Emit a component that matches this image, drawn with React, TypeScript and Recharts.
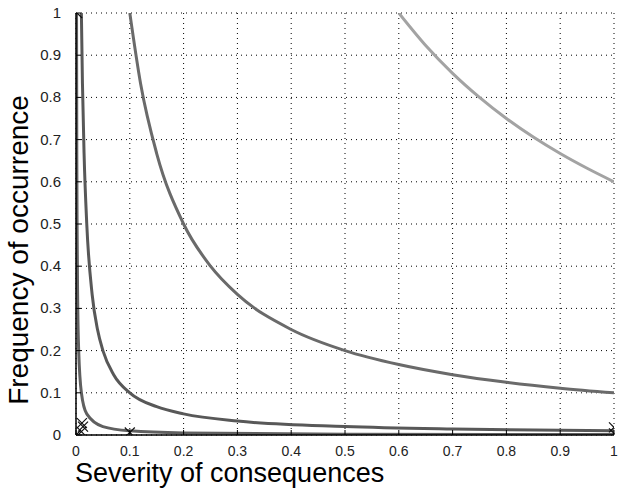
import React from "react";
import { ComposedChart, Line, Scatter, XAxis, YAxis, CartesianGrid } from "recharts";

// axis ticks
const axisTicks = [0, 0.1, 0.2, 0.3, 0.4, 0.5, 0.6, 0.7, 0.8, 0.9, 1];

// iso-risk curves (severity, frequency)
const curveAX = [0.6, 0.65, 0.7, 0.75, 0.8, 0.85, 0.9, 0.95, 1];
const curveAY = [1, 0.923, 0.857, 0.8, 0.75, 0.706, 0.667, 0.632, 0.6];

const curveBX = [0.1, 0.12, 0.15, 0.2, 0.25, 0.3, 0.4, 0.5, 0.6, 0.7, 0.8, 0.9, 1];
const curveBY = [1, 0.833, 0.667, 0.5, 0.4, 0.333, 0.25, 0.2, 0.167, 0.143, 0.125, 0.111, 0.1];

const curveCX = [0.01, 0.012, 0.015, 0.02, 0.03, 0.04, 0.05, 0.07, 0.1, 0.15, 0.2, 0.3, 0.5, 0.7, 1];
const curveCY = [1, 0.833, 0.667, 0.5, 0.333, 0.25, 0.2, 0.143, 0.1, 0.067, 0.05, 0.033, 0.02, 0.014, 0.01];

const curveDX = [0.001, 0.0015, 0.002, 0.003, 0.005, 0.01, 0.02, 0.05, 0.1, 0.2, 0.5, 1];
const curveDY = [1, 0.667, 0.5, 0.333, 0.2, 0.1, 0.05, 0.02, 0.01, 0.005, 0.002, 0.001];

// x markers
const markX = [0.002, 0, 0.01, 0.013, 0.011, 0.1, 1, 1];
const markY = [1, 0, 0.008, 0.02, 0.028, 0.006, 0.018, 0.004];

const zip = (xs: number[], ys: number[]) => xs.map((x, i) => ({ x, y: ys[i] }));

const fmt = (v: number) => (v === 0 || v === 1 ? String(v) : v.toFixed(1));

const tickFont = "'Liberation Sans Narrow', 'Liberation Sans', Arial, sans-serif";
const labelFont = "'Liberation Sans', Arial, sans-serif";

const XTick = (props: any) => {
    const { x, y, payload } = props;
    return (
        <g>
            <line x1={x} y1={y} x2={x} y2={y - 5} stroke="#000" />
            <text x={x} y={y + 21} textAnchor="middle" fontSize={14} fill="#222" fontFamily={tickFont}>
                {fmt(payload.value)}
            </text>
        </g>
    );
};

const YTick = (props: any) => {
    const { x, y, payload } = props;
    return (
        <g>
            <line x1={x} y1={y} x2={x + 5} y2={y} stroke="#000" />
            <text x={x - 15} y={y + 5} textAnchor="end" fontSize={15} fill="#222" fontFamily={tickFont}>
                {fmt(payload.value)}
            </text>
        </g>
    );
};

const NoLabel = () => <g />;

const XMark = (props: any) => {
    const { cx, cy } = props;
    const s = 5;
    return (
        <g stroke="#111" strokeWidth={1.2}>
            <line x1={cx - s} y1={cy - s} x2={cx + s} y2={cy + s} />
            <line x1={cx - s} y1={cy + s} x2={cx + s} y2={cy - s} />
        </g>
    );
};

export default function App() {
    return (
        <div style={{ position: "absolute", left: 0, top: 0, width: 620, height: 488, background: "#fff" }}>
            <ComposedChart width={620} height={488} margin={{ top: 13, right: 6, bottom: 0, left: 0 }}>
                <CartesianGrid stroke="#000" strokeDasharray="1 4" />
                <XAxis
                    dataKey="x"
                    type="number"
                    domain={[0, 1]}
                    ticks={axisTicks}
                    height={53}
                    tickLine={false}
                    tickSize={0}
                    tickMargin={0}
                    tick={<XTick />}
                    axisLine={{ stroke: "#000", strokeWidth: 1.5 }}
                    allowDataOverflow
                    label={{
                        content: (p: any) => (
                            <text x={p.viewBox.x - 1} y={p.viewBox.y + 47} fontSize={27} fill="#000" fontFamily={labelFont}>
                                Severity of consequences
                            </text>
                        ),
                    }}
                />
                <YAxis
                    dataKey="y"
                    type="number"
                    domain={[0, 1]}
                    ticks={axisTicks}
                    width={76}
                    tickLine={false}
                    tickSize={0}
                    tickMargin={0}
                    tick={<YTick />}
                    axisLine={{ stroke: "#000", strokeWidth: 1.5 }}
                    allowDataOverflow
                    label={{
                        content: (p: any) => {
                            const cy = p.viewBox.y + p.viewBox.height / 2 + 26;
                            return (
                                <text
                                    x={28}
                                    y={cy}
                                    transform={`rotate(-90 28 ${cy})`}
                                    textAnchor="middle"
                                    fontSize={28}
                                    fill="#000"
                                    fontFamily={labelFont}
                                >
                                    Frequency of occurrence
                                </text>
                            );
                        },
                    }}
                />
                <XAxis xAxisId="top" orientation="top" type="number" domain={[0, 1]} ticks={axisTicks}
                    mirror height={0} tickSize={5} tick={<NoLabel />} stroke="#000" />
                <YAxis yAxisId="right" orientation="right" type="number" domain={[0, 1]} ticks={axisTicks}
                    mirror width={0} tickSize={5} tick={<NoLabel />} stroke="#000" />

                <Line data={zip(curveAX, curveAY)} dataKey="y" type="monotone" stroke="#a3a3a3" strokeWidth={3} dot={false} isAnimationActive={false} />
                <Line data={zip(curveBX, curveBY)} dataKey="y" type="monotone" stroke="#6a6a6a" strokeWidth={3} dot={false} isAnimationActive={false} />
                <Line data={zip(curveCX, curveCY)} dataKey="y" type="monotone" stroke="#585858" strokeWidth={3} dot={false} isAnimationActive={false} />
                <Line data={zip(curveDX, curveDY)} dataKey="y" type="monotone" stroke="#606060" strokeWidth={3} dot={false} isAnimationActive={false} />
                <Scatter data={zip(markX, markY)} dataKey="y" shape={<XMark />} isAnimationActive={false} />
            </ComposedChart>
        </div>
    );
}
